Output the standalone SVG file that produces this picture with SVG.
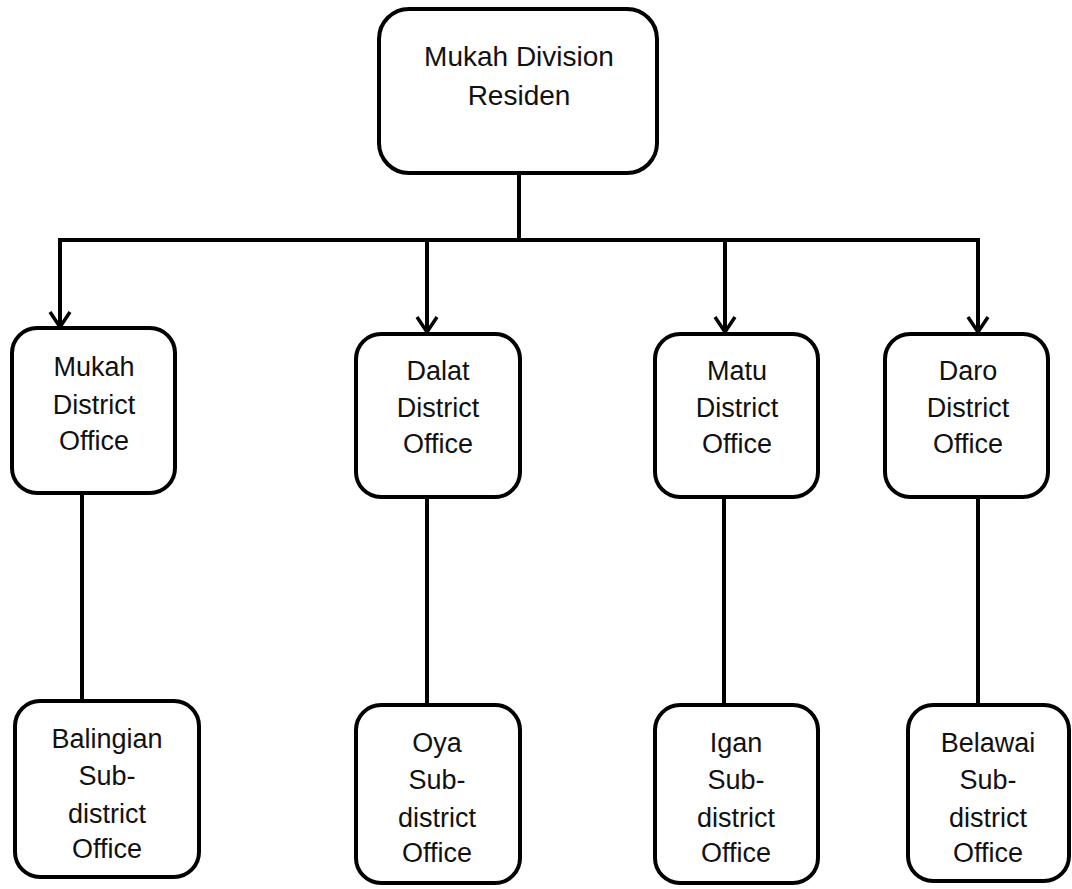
<svg xmlns="http://www.w3.org/2000/svg" width="1072" height="889" viewBox="0 0 1072 889">
<style>
.box{fill:#fff;stroke:#000;stroke-width:4}
.t{font-family:"Liberation Sans",Arial,sans-serif;font-size:27px;fill:#111;text-anchor:middle}
.big{font-size:28px}
.ln{fill:none;stroke:#000;stroke-width:4}
</style>
<defs>
<marker id="arr" viewBox="0 0 20 24" refX="18" refY="12" markerWidth="20" markerHeight="24" markerUnits="userSpaceOnUse" orient="auto">
<path d="M3 2 L18 12 L3 22" fill="none" stroke="#000" stroke-width="3.5"/>
</marker>
</defs>
<g id="connectors">
<path class="ln" d="M519 173 V240"/>
<path class="ln" d="M58 240 H980"/>
<path class="ln" d="M60 240 V327" marker-end="url(#arr)"/>
<path class="ln" d="M427 240 V332" marker-end="url(#arr)"/>
<path class="ln" d="M725 240 V332" marker-end="url(#arr)"/>
<path class="ln" d="M978 240 V332" marker-end="url(#arr)"/>
<path class="ln" d="M82 493 V701"/>
<path class="ln" d="M427 497 V705"/>
<path class="ln" d="M724 497 V705"/>
<path class="ln" d="M978 497 V705"/>
</g>
<g id="resident">
<rect class="box" x="379" y="9" width="278" height="164" rx="30"/>
<text class="t big" x="519" y="66">Mukah Division</text>
<text class="t big" x="519" y="105">Residen</text>
</g>
<g id="mukah">
<rect class="box" x="12" y="328" width="163" height="165" rx="25"/>
<text class="t" x="94" y="376">Mukah</text>
<text class="t" x="94" y="414">District</text>
<text class="t" x="94" y="450">Office</text>
</g>
<g id="dalat">
<rect class="box" x="356" y="334" width="164" height="163" rx="25"/>
<text class="t" x="438" y="380">Dalat</text>
<text class="t" x="438" y="417">District</text>
<text class="t" x="438" y="453">Office</text>
</g>
<g id="matu">
<rect class="box" x="655" y="334" width="163" height="163" rx="25"/>
<text class="t" x="737" y="380">Matu</text>
<text class="t" x="737" y="417">District</text>
<text class="t" x="737" y="453">Office</text>
</g>
<g id="daro">
<rect class="box" x="885" y="334" width="163" height="163" rx="25"/>
<text class="t" x="968" y="380">Daro</text>
<text class="t" x="968" y="417">District</text>
<text class="t" x="968" y="453">Office</text>
</g>
<g id="balingian">
<rect class="box" x="15" y="701" width="184" height="176" rx="25"/>
<text class="t" x="107" y="748">Balingian</text>
<text class="t" x="107" y="785">Sub-</text>
<text class="t" x="107" y="823">district</text>
<text class="t" x="107" y="858">Office</text>
</g>
<g id="oya">
<rect class="box" x="356" y="705" width="164" height="178" rx="25"/>
<text class="t" x="437" y="752">Oya</text>
<text class="t" x="437" y="789">Sub-</text>
<text class="t" x="437" y="827">district</text>
<text class="t" x="437" y="862">Office</text>
</g>
<g id="igan">
<rect class="box" x="655" y="705" width="163" height="178" rx="25"/>
<text class="t" x="736" y="752">Igan</text>
<text class="t" x="736" y="789">Sub-</text>
<text class="t" x="736" y="827">district</text>
<text class="t" x="736" y="862">Office</text>
</g>
<g id="belawai">
<rect class="box" x="908" y="705" width="161" height="176" rx="25"/>
<text class="t" x="988" y="752">Belawai</text>
<text class="t" x="988" y="789">Sub-</text>
<text class="t" x="988" y="827">district</text>
<text class="t" x="988" y="862">Office</text>
</g>
</svg>
